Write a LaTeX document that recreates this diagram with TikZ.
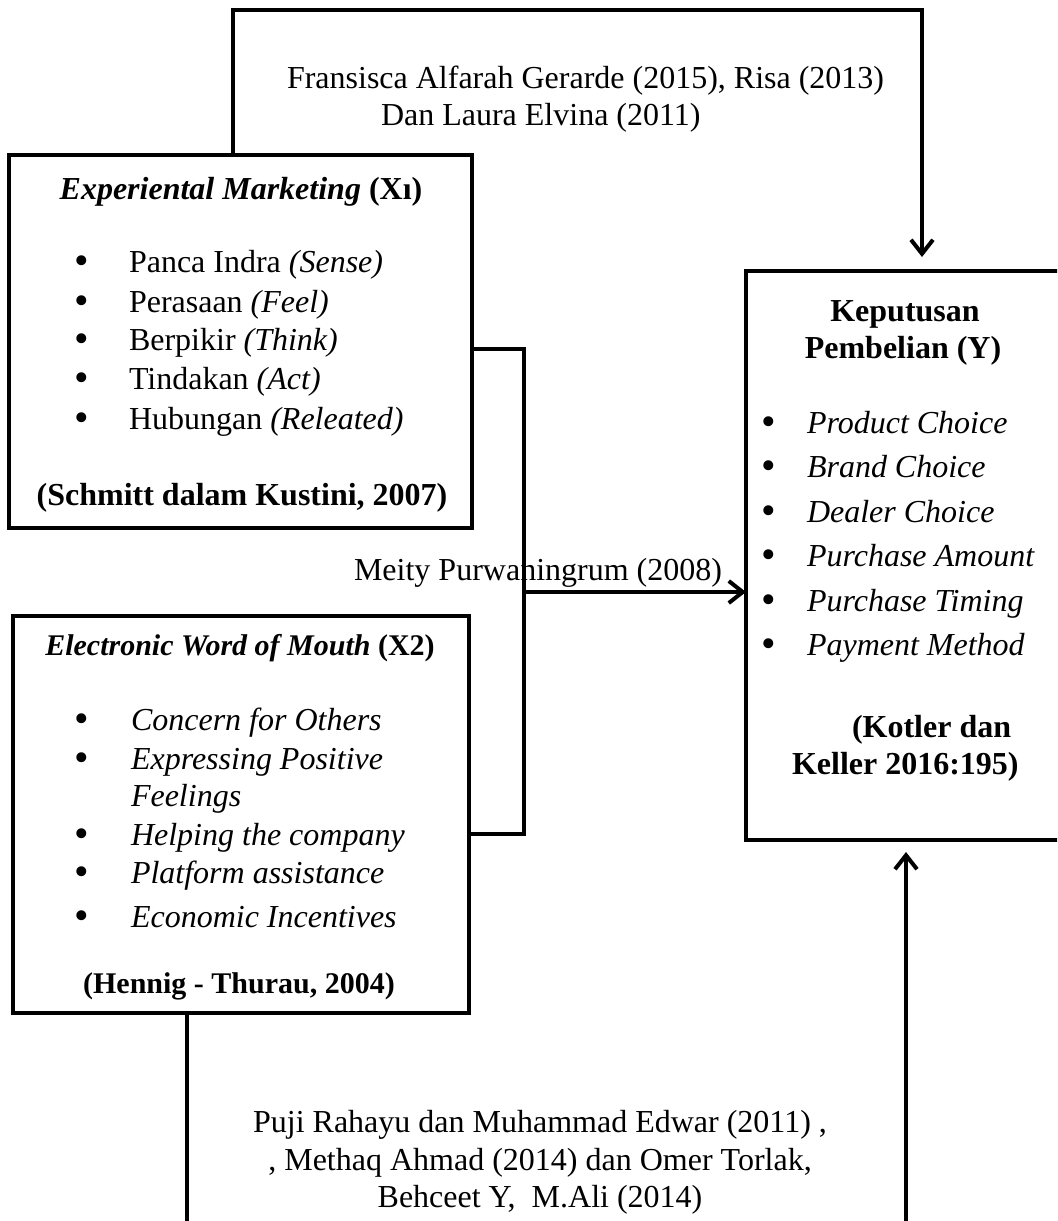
\documentclass[tikz,border=0pt]{standalone}
\usepackage{fontspec}
\usepackage{graphicx}
\setmainfont{Liberation Serif}
\usetikzlibrary{arrows.meta}
\newcommand{\bigdot}{\makebox[6pt][c]{\raisebox{-1.4pt}{\scalebox{1.3}{\textbullet}}}}
\begin{document}
\begin{tikzpicture}[x=0.5pt,y=-0.5pt,
  box/.style={draw,line width=2pt,inner sep=0pt,outer sep=0pt,rectangle},
  txt/.style={inner sep=0pt,outer sep=0pt,font=\fontsize{16}{19}\selectfont},
  small/.style={inner sep=0pt,outer sep=0pt,font=\fontsize{15}{18}\selectfont},
  conn/.style={line width=2pt},
  arr/.style={line width=2pt,-{Straight Barb[length=7pt,width=11pt]}},
  itemA/.style={txt,anchor=base west},
]
\useasboundingbox (0,0) rectangle (1057,1221);
\clip (0,0) rectangle (1057,1221);

% boxes
\node[box,minimum width=231.5pt,minimum height=186.5pt] (b1) at (240.5,341.5) {};
\node[box,minimum width=228pt,minimum height=198.5pt] (b2) at (241,814.5) {};
\node[box,minimum width=159pt,minimum height=284.5pt] (by) at (905,555.5) {};

% box 1 text
\node[txt,anchor=base] (h1) at (241,199) {\textbf{\textit{Experiental Marketing} (Xı)}};
\node[itemA] (a1) at (76,272) {\makebox[26.5pt][l]{\bigdot}Panca Indra \textit{(Sense)}};
\node[itemA] (a2) at (76,312) {\makebox[26.5pt][l]{\bigdot}Perasaan \textit{(Feel)}};
\node[itemA] (a3) at (76,350) {\makebox[26.5pt][l]{\bigdot}Berpikir \textit{(Think)}};
\node[itemA] (a4) at (76,389) {\makebox[26.5pt][l]{\bigdot}Tindakan \textit{(Act)}};
\node[itemA] (a5) at (76,429) {\makebox[26.5pt][l]{\bigdot}Hubungan \textit{(Releated)}};
\node[txt,anchor=base] (s1) at (242,505) {\textbf{(Schmitt dalam Kustini, 2007)}};

% box 2 text
\node[small,anchor=base] (h2) at (240,655) {\textbf{\textit{Electronic Word of Mouth} (X2)}};
\node[itemA] (e1) at (76,730) {\makebox[27.5pt][l]{\bigdot}\textit{Concern for Others}};
\node[itemA] (e2) at (76,769) {\makebox[27.5pt][l]{\bigdot}\textit{Expressing Positive}};
\node[itemA] (e2b) at (131,806) {\textit{Feelings}};
\node[itemA] (e3) at (76,845) {\makebox[27.5pt][l]{\bigdot}\textit{Helping the company}};
\node[itemA] (e4) at (76,883) {\makebox[27.5pt][l]{\bigdot}\textit{Platform assistance}};
\node[itemA] (e5) at (76,927) {\makebox[27.5pt][l]{\bigdot}\textit{Economic Incentives}};
\node[small,anchor=base] (s2) at (239,993) {\textbf{(Hennig - Thurau, 2004)}};

% box Y text
\node[txt,anchor=base] (hy1) at (905,321) {\textbf{Keputusan}};
\node[txt,anchor=base] (hy2) at (903,358) {\textbf{Pembelian (Y)}};
\node[itemA] (y1) at (763,433) {\makebox[22pt][l]{\bigdot}\textit{Product Choice}};
\node[itemA] (y2) at (763,477) {\makebox[22pt][l]{\bigdot}\textit{Brand Choice}};
\node[itemA] (y3) at (763,522) {\makebox[22pt][l]{\bigdot}\textit{Dealer Choice}};
\node[itemA] (y4) at (763,566) {\makebox[22pt][l]{\bigdot}\textit{Purchase Amount}};
\node[itemA] (y5) at (763,611) {\makebox[22pt][l]{\bigdot}\textit{Purchase Timing}};
\node[itemA] (y6) at (763,655) {\makebox[22pt][l]{\bigdot}\textit{Payment Method}};
\node[itemA] (k1) at (852,737) {\textbf{(Kotler dan}};
\node[itemA] (k2) at (792,774) {\textbf{Keller 2016:195)}};

% connector labels
\node[itemA] (l1) at (287,88) {Fransisca Alfarah Gerarde (2015), Risa (2013)};
\node[itemA] (l2) at (381,125) {Dan Laura Elvina (2011)};
\node[txt,anchor=base east] (l3) at (722,580) {Meity Purwaningrum (2008)};
\node[txt,anchor=base] (l4) at (540,1132) {Puji Rahayu dan Muhammad Edwar (2011) ,};
\node[txt,anchor=base] (l5) at (540,1170) {, Methaq Ahmad (2014) dan Omer Torlak,};
\node[txt,anchor=base] (l6) at (540,1207) {Behceet Y,\ \ M.Ali (2014)};

% connector coordinates
\coordinate (tl) at (233,10);
\coordinate (tr) at (922,10);
\coordinate (m1) at (524,349);
\coordinate (m2) at (524,834);
\coordinate (mj) at (524,592);
\coordinate (bl) at (187,1240);
\coordinate (br) at (906,1240);

% connectors
\draw[arr,shorten >=7pt] (b1.north -| tl) -- (tl) -- (tr) -- (tr |- by.north);
\draw[conn] (b1.east |- m1) -- (m1) -- (m2) -- (b2.east |- m2);
\draw[arr] (mj) -- (by.west |- mj);
\draw[conn] (b2.south -| bl) -- (bl);
\draw[arr,shorten >=6pt] (br) -- (br |- by.south);
\end{tikzpicture}
\end{document}
